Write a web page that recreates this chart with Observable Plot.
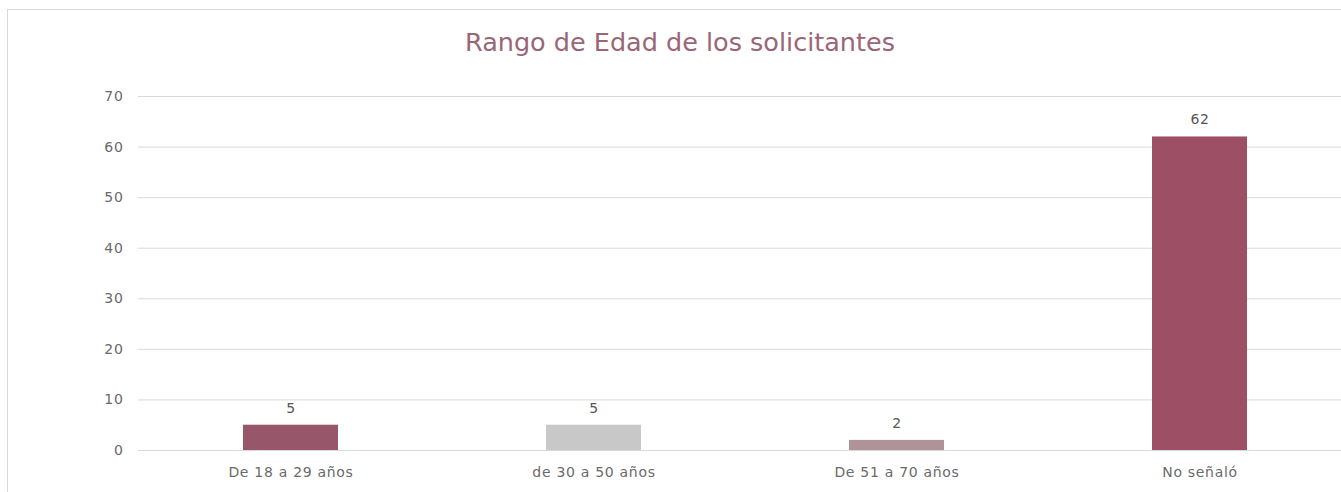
<!DOCTYPE html>
<html>
<head>
<meta charset="utf-8">
<script src="https://cdn.jsdelivr.net/npm/d3@7"></script>
<script src="https://cdn.jsdelivr.net/npm/@observablehq/plot@0.6"></script>
<style>
  html, body { margin: 0; padding: 0; background: #fff; overflow: hidden; width: 1341px; height: 492px; }
  #frame { position: absolute; left: 7px; top: 9px; width: 1400px; height: 600px; border-left: 1px solid #d9d9d9; border-top: 1px solid #d9d9d9; }
  #title { position: absolute; left: 0; top: 27px; width: 1360px; text-align: center; font-family: "DejaVu Sans", sans-serif; font-size: 25.5px; line-height: 30px; color: #9a6677; font-weight: 400; }
  #chart { position: absolute; left: 0; top: 70px; width: 1352px; }
  #chart svg { max-width: none !important; }
  #chart text { letter-spacing: 0.7px; }
</style>
</head>
<body>
<div id="frame"></div>
<div id="title">Rango de Edad de los solicitantes</div>
<div id="chart"></div>
<script>
const categories = ["De 18 a 29 años", "de 30 a 50 años", "De 51 a 70 años", "No señaló"];
const values = [5, 5, 2, 62];
const colors = ["#97566a", "#c8c8c8", "#b09398", "#9d4f66"];
const yTicks = [0, 10, 20, 30, 40, 50, 60, 70];

const data = categories.map((c, i) => ({category: c, value: values[i]}));

const plot = Plot.plot({
  width: 1352,
  height: 422,
  marginTop: 26,
  marginBottom: 42,
  marginLeft: 138,
  marginRight: 0,
  style: {fontFamily: "'DejaVu Sans', sans-serif", fontSize: "14px", color: "#666", background: "transparent", maxWidth: "none"},
  x: {domain: categories, paddingInner: 0.687, paddingOuter: 0.3435, label: null},
  y: {domain: [0, 70], ticks: yTicks, label: null},
  color: {domain: categories, range: colors},
  marks: [
    Plot.ruleY(yTicks, {stroke: "#d9d9d9", strokeWidth: 1}),
    Plot.barY(data, {x: "category", y: "value", fill: "category"}),
    Plot.text(data, {x: "category", y: "value", text: d => String(d.value), dy: -17, fill: "#555", fontSize: 14}),
    Plot.axisX({tickSize: 0, tickPadding: 17, fontSize: 14, fill: "#6a6a6a"}),
    Plot.axisY({ticks: yTicks, tickSize: 0, tickPadding: 15, fontSize: 14, fill: "#6a6a6a"})
  ]
});
document.getElementById("chart").appendChild(plot);
</script>
</body>
</html>
